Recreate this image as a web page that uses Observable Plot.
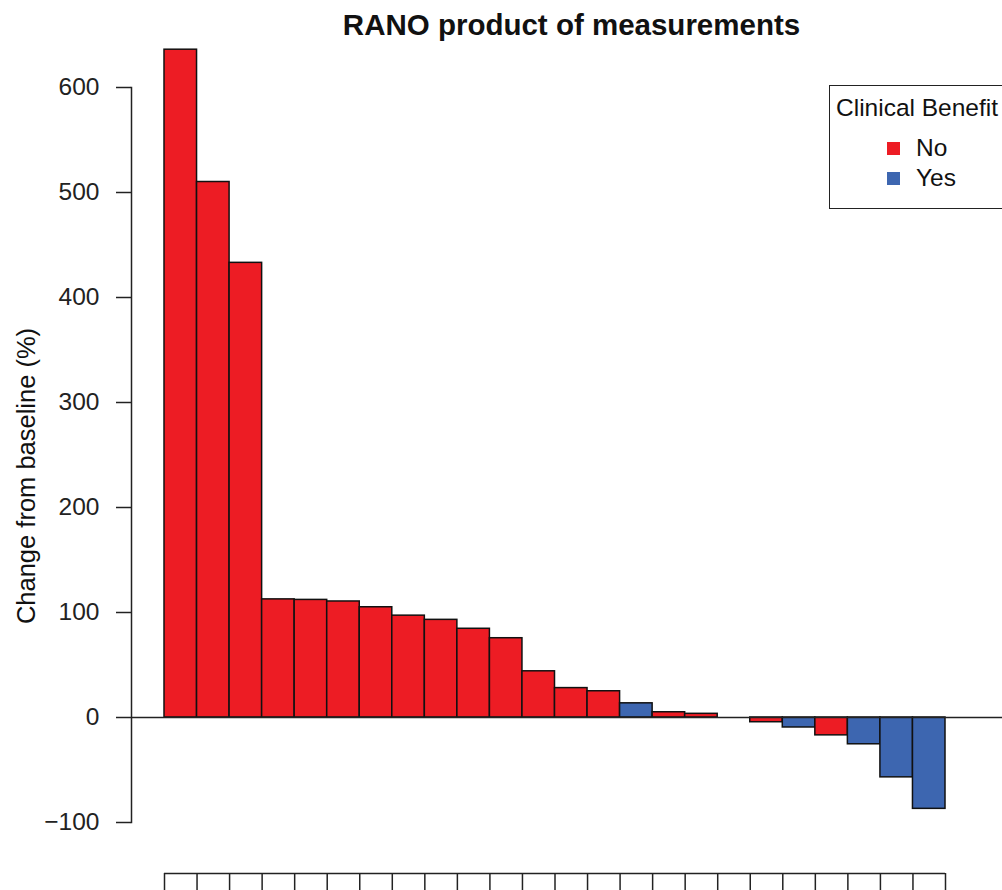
<!DOCTYPE html>
<html>
<head>
<meta charset="utf-8">
<script src="https://cdn.jsdelivr.net/npm/d3@7"></script>
<script src="https://cdn.jsdelivr.net/npm/@observablehq/plot@0.6"></script>
<style>
  html, body { margin: 0; padding: 0; background: #fff; overflow: hidden; }
  #wrap { position: relative; width: 1002px; height: 890px; overflow: hidden; font-family: "Liberation Sans", Arial, Helvetica, sans-serif; }
  #legend { position: absolute; left: 829px; top: 85px; width: 200px; height: 124px; border: 1.5px solid #222; background: #fff; box-sizing: border-box; }
  #legend .ttl { position: absolute; left: 6px; top: 8px; font-size: 24.5px; color: #111; white-space: nowrap; }
  #legend .row { position: absolute; left: 57px; font-size: 24.5px; color: #111; display: flex; align-items: center; line-height: 28px; }
  #legend .sw { width: 13px; height: 13px; margin-right: 16px; }
</style>
</head>
<body>
<div id="wrap"></div>
<script>
const title = "RANO product of measurements";
const yLabel = "Change from baseline (%)";
const legendTitle = "Clinical Benefit";
const patients = d3.range(1, 25);
const changes = [636, 510, 433, 112.5, 112, 110.5, 105, 97, 93, 84.5, 75.5, 44, 28, 25, 13.5, 5, 3.5, 0, -4.5, -9.5, -17, -25.5, -57, -87];
const benefit = ["No","No","No","No","No","No","No","No","No","No","No","No","No","No","Yes","No","No","No","No","Yes","No","Yes","Yes","Yes"];
const benefitLevels = ["No", "Yes"];
const benefitColors = ["#ED1C24", "#3D66B0"];
const yTicks = [-100, 0, 100, 200, 300, 400, 500, 600];

const data = patients.map((p, i) => ({patient: p, x1: i, x2: i + 1, value: changes[i], benefit: benefit[i]}));
const edges = d3.range(0, patients.length + 1);

const chart = Plot.plot({
  width: 1002,
  height: 890,
  marginLeft: 131,
  marginRight: 0,
  marginTop: 87,
  marginBottom: 68,
  style: {fontFamily: "'Liberation Sans', Arial, Helvetica, sans-serif", fontSize: "24px", color: "#222", background: "#fff", overflow: "visible"},
  x: {type: "linear", domain: [0, patients.length], insetLeft: 33, insetRight: 57},
  y: {domain: [-100, 600]},
  color: {domain: benefitLevels, range: benefitColors},
  marks: [
    Plot.frame({anchor: "left", stroke: "#222", strokeWidth: 1.5}),
    Plot.axisY({ticks: yTicks, tickSize: 15, tickPadding: 17, label: null, fontSize: 24.5, strokeWidth: 1.5}),
    Plot.text([yLabel], {frameAnchor: "left", dx: -105, dy: 21, rotate: -90, fontSize: 25.5, textAnchor: "middle", lineAnchor: "middle", fill: "#111"}),
    Plot.text([title], {frameAnchor: "top", dx: 4.5, dy: -62, fontSize: 29.5, fontWeight: "bold", lineAnchor: "middle", fill: "#111"}),
    Plot.rectY(data, {x1: "x1", x2: "x2", y: "value", fill: "benefit", stroke: "#111", strokeWidth: 1.5}),
    Plot.ruleY([0], {stroke: "#222", strokeWidth: 1.5}),
    Plot.ruleY([-100], {x1: 0, x2: patients.length, dy: 51, stroke: "#222", strokeWidth: 1.5}),
    Plot.axisX({ticks: edges, tickSize: 18, tickFormat: () => "", dy: 51, strokeWidth: 1.5, label: null})
  ]
});
document.getElementById("wrap").appendChild(chart);

const legend = d3.select("#wrap").append("div").attr("id", "legend");
legend.append("div").attr("class", "ttl").text(legendTitle);
benefitLevels.forEach((lvl, i) => {
  const row = legend.append("div").attr("class", "row").style("top", (48 + i * 30) + "px");
  row.append("div").attr("class", "sw").style("background", benefitColors[i]);
  row.append("span").text(lvl);
});
</script>
</body>
</html>
